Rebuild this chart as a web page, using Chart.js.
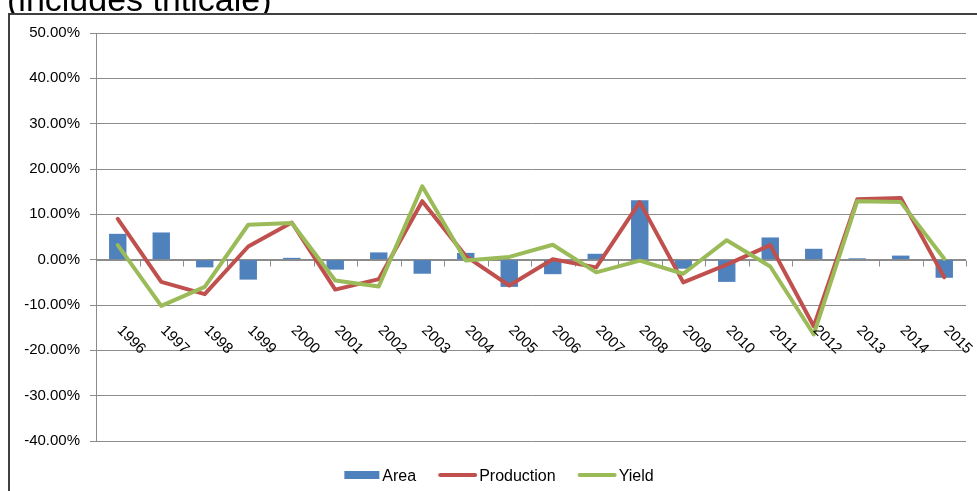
<!DOCTYPE html>
<html>
<head>
<meta charset="utf-8">
<script src="https://cdn.jsdelivr.net/npm/chart.js@4/dist/chart.umd.min.js"></script>
<style>
  html, body { margin: 0; padding: 0; background: #fff; overflow: hidden; }
  canvas { display: block; }
</style>
</head>
<body>
<canvas id="chart" width="977" height="491"></canvas>
<script>
// Year-on-year change, percent
const years = ['1996','1997','1998','1999','2000','2001','2002','2003','2004','2005',
               '2006','2007','2008','2009','2010','2011','2012','2013','2014','2015'];
const area = [5.7, 6.0, -1.7, -4.4, 0.4, -2.2, 1.6, -3.1, 1.5, -6.0,
              -3.2, 1.3, 13.1, -2.0, -4.9, 4.9, 2.4, 0.3, 0.9, -4.0];
const production = [9.0, -4.9, -7.6, 2.9, 8.2, -6.6, -4.3, 12.9, 0.8, -5.7,
                    0.1, -1.7, 12.7, -5.0, -1.1, 3.2, -14.7, 13.3, 13.6, -3.9];
const yieldChange = [3.2, -10.2, -6.0, 7.7, 8.1, -4.6, -5.9, 16.2, -0.2, 0.6,
                     3.3, -2.8, -0.2, -3.1, 4.3, -1.5, -16.5, 12.9, 12.7, 0.2];
const seriesNames = ['Area', 'Production', 'Yield'];
const yTicks = { min: -40, max: 50, step: 10 };
const titleText = '(includes triticale)';

const FONT = '"Liberation Sans", Arial, Helvetica, sans-serif';
const GRID = '#8c8c8c';

// Outer frame and the (partly hidden) heading above it
const framePlugin = {
  id: 'frame',
  beforeDraw(chart) {
    const ctx = chart.ctx;
    ctx.save();
    ctx.fillStyle = '#fff';
    ctx.fillRect(0, 0, chart.width, chart.height);
    ctx.save();
    ctx.beginPath();
    ctx.rect(0, 0, chart.width, 13);
    ctx.clip();
    ctx.fillStyle = '#000';
    ctx.font = '34px ' + FONT;
    ctx.textBaseline = 'alphabetic';
    ctx.textAlign = 'left';
    ctx.fillText(titleText, 7, 11);
    ctx.restore();
    ctx.strokeStyle = '#404040';
    ctx.lineWidth = 2;
    ctx.beginPath();
    ctx.moveTo(9, chart.height + 2);
    ctx.lineTo(9, 14);
    ctx.lineTo(chart.width + 2, 14);
    ctx.stroke();
    ctx.restore();
  }
};

// Category axis crossing at zero, with tick marks and slanted year labels
const categoryAxisPlugin = {
  id: 'categoryAxis',
  beforeDatasetsDraw(chart) {
    const ctx = chart.ctx;
    const xs = chart.scales.x, ys = chart.scales.y;
    const y0 = Math.round(ys.getPixelForValue(0)) + 0.5;
    const n = chart.data.labels.length;
    const step = xs.getPixelForValue(1) - xs.getPixelForValue(0);
    ctx.save();
    ctx.strokeStyle = GRID;
    ctx.lineWidth = 1;
    ctx.beginPath();
    ctx.moveTo(chart.chartArea.left, y0);
    ctx.lineTo(chart.chartArea.right, y0);
    for (let i = 0; i <= n; i++) {
      const bx = Math.round(xs.getPixelForValue(Math.min(i, n - 1)) + (i === n ? step / 2 : -step / 2)) + 0.5;
      ctx.moveTo(bx, y0);
      ctx.lineTo(bx, y0 + 6);
    }
    ctx.stroke();
    ctx.restore();
  },
  afterDraw(chart) {
    const ctx = chart.ctx;
    const xs = chart.scales.x, ys = chart.scales.y;
    const y0 = ys.getPixelForValue(0);
    ctx.save();
    ctx.fillStyle = '#000';
    ctx.font = '15px ' + FONT;
    ctx.textAlign = 'left';
    ctx.textBaseline = 'top';
    chart.data.labels.forEach((lab, i) => {
      ctx.save();
      ctx.translate(xs.getPixelForValue(i) + 7, y0 + 63);
      ctx.rotate(Math.PI / 4);
      ctx.fillText(lab, 0, 0);
      ctx.restore();
    });
    ctx.restore();
  }
};

// Legend row under the plot
const legendPlugin = {
  id: 'legendRow',
  afterDraw(chart) {
    const ctx = chart.ctx;
    ctx.save();
    ctx.font = '16px ' + FONT;
    const items = chart.data.datasets.map(ds => ({
      text: ds.label,
      kind: ds.type === 'line' ? 'line' : 'rect',
      color: ds.type === 'line' ? ds.borderColor : ds.backgroundColor,
      sw: ds.type === 'line' ? 37 : 35
    }));
    const textGap = 3, itemGap = 23;
    let total = 0;
    items.forEach((it, i) => {
      it.tw = ctx.measureText(it.text).width;
      total += it.sw + textGap + it.tw + (i < items.length - 1 ? itemGap : 0);
    });
    let x = 499 - total / 2;
    const cy = 475;
    items.forEach(it => {
      if (it.kind === 'rect') {
        ctx.fillStyle = it.color;
        ctx.fillRect(x, cy - 4, it.sw, 8);
      } else {
        ctx.strokeStyle = it.color;
        ctx.lineWidth = 4;
        ctx.lineCap = 'round';
        ctx.beginPath();
        ctx.moveTo(x + 1, cy);
        ctx.lineTo(x + it.sw - 1, cy);
        ctx.stroke();
      }
      x += it.sw + textGap;
      ctx.fillStyle = '#000';
      ctx.textBaseline = 'alphabetic';
      ctx.textAlign = 'left';
      ctx.fillText(it.text, x, 481);
      x += it.tw + itemGap;
    });
    ctx.restore();
  }
};

new Chart(document.getElementById('chart'), {
  data: {
    labels: years,
    datasets: [
      {
        type: 'bar', label: seriesNames[0], data: area,
        backgroundColor: '#4F81BD', borderWidth: 0,
        categoryPercentage: 1.0, barPercentage: 0.4, order: 3
      },
      {
        type: 'line', label: seriesNames[1], data: production,
        borderColor: '#C0504D', backgroundColor: '#C0504D', borderWidth: 4,
        pointRadius: 0, pointHoverRadius: 0, tension: 0,
        borderJoinStyle: 'round', borderCapStyle: 'round', order: 2
      },
      {
        type: 'line', label: seriesNames[2], data: yieldChange,
        borderColor: '#9BBB59', backgroundColor: '#9BBB59', borderWidth: 4,
        pointRadius: 0, pointHoverRadius: 0, tension: 0,
        borderJoinStyle: 'round', borderCapStyle: 'round', order: 1
      }
    ]
  },
  options: {
    responsive: false,
    animation: false,
    devicePixelRatio: 1,
    layout: { padding: { top: 33, right: 11, bottom: 50, left: 0 } },
    plugins: { legend: { display: false }, tooltip: { enabled: false }, title: { display: false } },
    scales: {
      x: { type: 'category', display: false, offset: true, grid: { offset: true } },
      y: {
        min: yTicks.min, max: yTicks.max,
        ticks: {
          stepSize: yTicks.step,
          callback: v => v.toFixed(2) + '%',
          color: '#000',
          font: { family: FONT, size: 15 },
          padding: 10
        },
        grid: { color: GRID, lineWidth: 1, tickLength: 6, drawTicks: true },
        border: { color: GRID, width: 1 },
        afterFit(scale) { scale.width = 96; }
      }
    }
  },
  plugins: [framePlugin, categoryAxisPlugin, legendPlugin]
});
</script>
</body>
</html>
